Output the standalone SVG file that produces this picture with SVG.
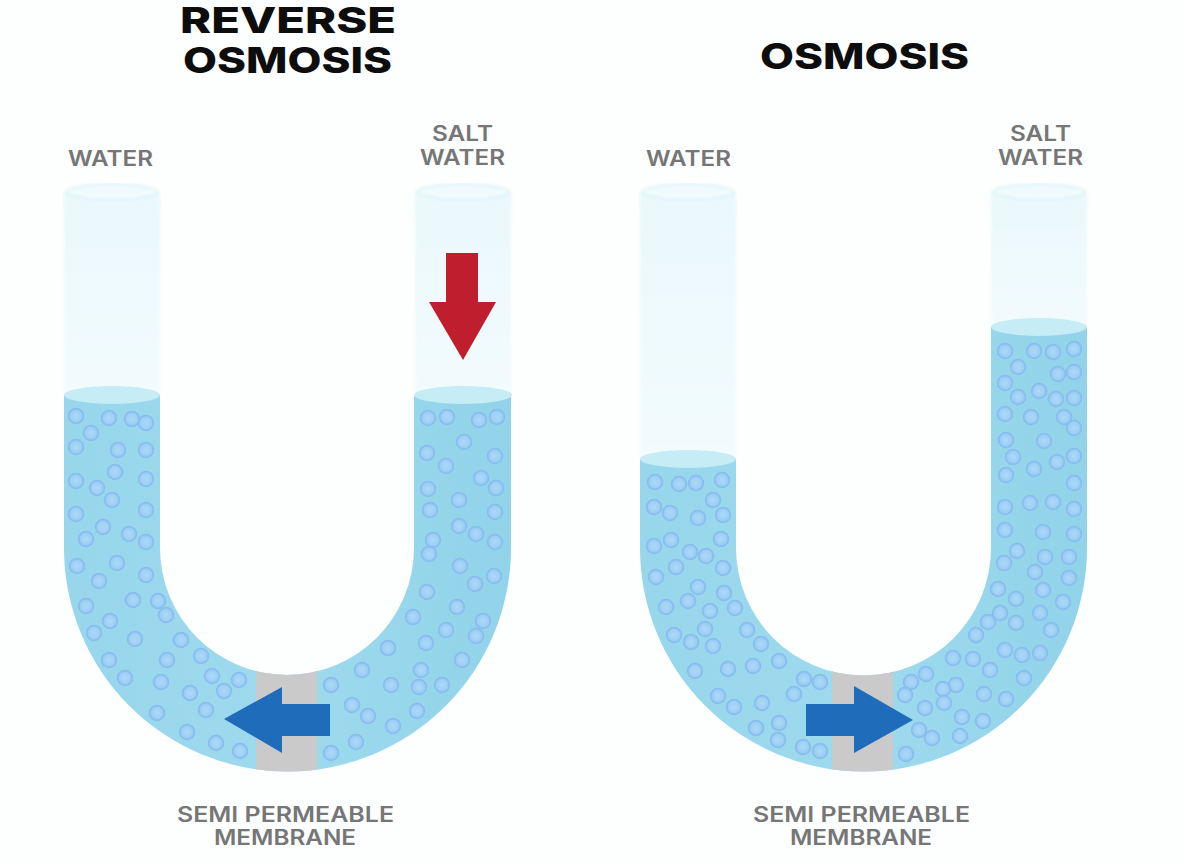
<svg xmlns="http://www.w3.org/2000/svg" width="1184" height="864" viewBox="0 0 1184 864">
  <style>
    .title { font-family: "Inter", "Liberation Sans", sans-serif; font-weight: 800; font-size: 36px; fill: #0d0d0d; text-anchor: start; }
    .label { font-family: "Inter", "Liberation Sans", sans-serif; font-weight: 600; font-size: 21px; fill: #767676; text-anchor: start; }
    .glass { fill: url(#glassFill); filter: url(#soft); }
    .rim { fill: #f0fbfd; stroke: #dcf3f9; stroke-width: 2; filter: url(#soft); }
    .water { fill: url(#waterFill); filter: url(#edge); }
    .surface { fill: #c6ecf6; filter: url(#edge); }
    .membrane { fill: #cbcaca; }
    .b { fill: url(#bubbleFill); stroke: #88bdee; stroke-width: 1.5; }
    .flow { fill: #1f6dba; }
    .push { fill: #bf1e2e; }
  </style>
  <defs>
    <filter id="soft" x="-10%" y="-10%" width="120%" height="120%"><feGaussianBlur stdDeviation="1.500"/></filter>
    <filter id="edge" x="-5%" y="-5%" width="110%" height="110%"><feGaussianBlur stdDeviation="0.600"/></filter>
    <linearGradient id="glassFill" x1="0" y1="0" x2="0" y2="1">
      <stop offset="0" stop-color="#eaf8fc"/>
      <stop offset="1" stop-color="#f2fbfe"/>
    </linearGradient>
    <linearGradient id="waterFill" x1="0" y1="0" x2="1" y2="0">
      <stop offset="0" stop-color="#97d6eb"/>
      <stop offset="0.5" stop-color="#9edaee"/>
      <stop offset="1" stop-color="#91d3e9"/>
    </linearGradient>
    <radialGradient id="bubbleFill">
      <stop offset="0" stop-color="#acdaf7"/>
      <stop offset="0.7" stop-color="#9ed0f5"/>
      <stop offset="1" stop-color="#8cc1ef"/>
    </radialGradient>
    <clipPath id="clipLeft"><path d="M64,395V548A223.500,223.500 0 0 0 511,548V395H414V548A127,127 0 0 1 160,548V395Z"/></clipPath>
    <clipPath id="clipRight"><path d="M640,459V548A223.500,223.500 0 0 0 1087,548V327H991V548A127,127 0 0 1 736,548V459Z"/></clipPath>
  </defs>

  <rect width="1184" height="864" fill="#fdfefe"/>

  <g id="reverse-osmosis">
    <text class="title" x="180" y="33" textLength="216" lengthAdjust="spacingAndGlyphs">REVERSE</text>
    <text class="title" x="183" y="73" textLength="209" lengthAdjust="spacingAndGlyphs">OSMOSIS</text>
    <text class="label" x="68" y="166" textLength="85" lengthAdjust="spacingAndGlyphs">WATER</text>
    <text class="label" x="432" y="141" textLength="61" lengthAdjust="spacingAndGlyphs">SALT</text>
    <text class="label" x="420" y="165" textLength="85" lengthAdjust="spacingAndGlyphs">WATER</text>
    <text class="label" x="177" y="822" textLength="217" lengthAdjust="spacingAndGlyphs">SEMI PERMEABLE</text>
    <text class="label" x="214" y="845" textLength="142" lengthAdjust="spacingAndGlyphs">MEMBRANE</text>

    <rect class="glass" x="64" y="192" width="96" height="204"/>
    <rect class="glass" x="415" y="192" width="96" height="204"/>
    <ellipse class="rim" cx="112" cy="192" rx="46" ry="7.500"/>
    <ellipse class="rim" cx="463" cy="192" rx="46" ry="7.500"/>

    <path class="water" d="M64,395V548A223.500,223.500 0 0 0 511,548V395H414V548A127,127 0 0 1 160,548V395Z"/>
    <ellipse class="surface" cx="112" cy="395" rx="48" ry="9"/>
    <ellipse class="surface" cx="463" cy="395" rx="49" ry="9"/>
    <rect class="membrane" x="256" y="660" width="61" height="120" clip-path="url(#clipLeft)"/>

    <g id="particles-left">
      <circle class="b" cx="76" cy="416" r="7.500"/><circle class="b" cx="109" cy="418" r="7.500"/><circle class="b" cx="132" cy="419" r="7.500"/><circle class="b" cx="146" cy="423" r="7.500"/><circle class="b" cx="91" cy="433" r="7.500"/><circle class="b" cx="76" cy="447" r="7.500"/><circle class="b" cx="118" cy="450" r="7.500"/><circle class="b" cx="146" cy="450" r="7.500"/><circle class="b" cx="115" cy="472" r="7.500"/><circle class="b" cx="76" cy="481" r="7.500"/><circle class="b" cx="146" cy="479" r="7.500"/><circle class="b" cx="97" cy="488" r="7.500"/><circle class="b" cx="112" cy="500" r="7.500"/><circle class="b" cx="146" cy="510" r="7.500"/><circle class="b" cx="76" cy="514" r="7.500"/><circle class="b" cx="103" cy="527" r="7.500"/><circle class="b" cx="86" cy="539" r="7.500"/><circle class="b" cx="129" cy="534" r="7.500"/><circle class="b" cx="146" cy="542" r="7.500"/><circle class="b" cx="77" cy="566" r="7.500"/><circle class="b" cx="117" cy="563" r="7.500"/><circle class="b" cx="99" cy="581" r="7.500"/><circle class="b" cx="146" cy="575" r="7.500"/><circle class="b" cx="133" cy="600" r="7.500"/><circle class="b" cx="158" cy="601" r="7.500"/><circle class="b" cx="166" cy="615" r="7.500"/><circle class="b" cx="86" cy="606" r="7.500"/><circle class="b" cx="110" cy="621" r="7.500"/><circle class="b" cx="94" cy="633" r="7.500"/><circle class="b" cx="135" cy="639" r="7.500"/><circle class="b" cx="181" cy="640" r="7.500"/><circle class="b" cx="201" cy="656" r="7.500"/><circle class="b" cx="109" cy="660" r="7.500"/><circle class="b" cx="167" cy="660" r="7.500"/><circle class="b" cx="125" cy="678" r="7.500"/><circle class="b" cx="161" cy="682" r="7.500"/><circle class="b" cx="212" cy="676" r="7.500"/><circle class="b" cx="239" cy="680" r="7.500"/><circle class="b" cx="224" cy="691" r="7.500"/><circle class="b" cx="190" cy="693" r="7.500"/><circle class="b" cx="206" cy="710" r="7.500"/><circle class="b" cx="157" cy="713" r="7.500"/><circle class="b" cx="187" cy="732" r="7.500"/><circle class="b" cx="216" cy="743" r="7.500"/><circle class="b" cx="240" cy="751" r="7.500"/>
      <circle class="b" cx="428" cy="418" r="7.500"/><circle class="b" cx="447" cy="417" r="7.500"/><circle class="b" cx="479" cy="420" r="7.500"/><circle class="b" cx="497" cy="417" r="7.500"/><circle class="b" cx="464" cy="442" r="7.500"/><circle class="b" cx="427" cy="453" r="7.500"/><circle class="b" cx="446" cy="466" r="7.500"/><circle class="b" cx="495" cy="456" r="7.500"/><circle class="b" cx="481" cy="478" r="7.500"/><circle class="b" cx="496" cy="488" r="7.500"/><circle class="b" cx="428" cy="489" r="7.500"/><circle class="b" cx="459" cy="500" r="7.500"/><circle class="b" cx="430" cy="510" r="7.500"/><circle class="b" cx="495" cy="512" r="7.500"/><circle class="b" cx="459" cy="526" r="7.500"/><circle class="b" cx="476" cy="534" r="7.500"/><circle class="b" cx="433" cy="540" r="7.500"/><circle class="b" cx="495" cy="542" r="7.500"/><circle class="b" cx="429" cy="554" r="7.500"/><circle class="b" cx="460" cy="566" r="7.500"/><circle class="b" cx="494" cy="576" r="7.500"/><circle class="b" cx="475" cy="584" r="7.500"/><circle class="b" cx="427" cy="592" r="7.500"/><circle class="b" cx="457" cy="607" r="7.500"/><circle class="b" cx="413" cy="617" r="7.500"/><circle class="b" cx="483" cy="621" r="7.500"/><circle class="b" cx="446" cy="630" r="7.500"/><circle class="b" cx="476" cy="636" r="7.500"/><circle class="b" cx="426" cy="643" r="7.500"/><circle class="b" cx="388" cy="648" r="7.500"/><circle class="b" cx="362" cy="670" r="7.500"/><circle class="b" cx="462" cy="660" r="7.500"/><circle class="b" cx="421" cy="670" r="7.500"/><circle class="b" cx="419" cy="687" r="7.500"/><circle class="b" cx="442" cy="685" r="7.500"/><circle class="b" cx="391" cy="685" r="7.500"/><circle class="b" cx="331" cy="685" r="7.500"/><circle class="b" cx="352" cy="705" r="7.500"/><circle class="b" cx="368" cy="716" r="7.500"/><circle class="b" cx="417" cy="711" r="7.500"/><circle class="b" cx="393" cy="726" r="7.500"/><circle class="b" cx="356" cy="742" r="7.500"/><circle class="b" cx="331" cy="753" r="7.500"/>
    </g>

    <polygon id="pressure-arrow" class="push" points="446,253 478,253 478,302 496,302 463,360 429,302 446,302"/>
    <polygon id="flow-left" class="flow" points="330,704 330,736 282,736 282,753 224,719 282,687 282,704"/>
  </g>

  <g id="osmosis">
    <text class="title" x="760" y="69" textLength="209" lengthAdjust="spacingAndGlyphs">OSMOSIS</text>
    <text class="label" x="646" y="166" textLength="85" lengthAdjust="spacingAndGlyphs">WATER</text>
    <text class="label" x="1010" y="141" textLength="61" lengthAdjust="spacingAndGlyphs">SALT</text>
    <text class="label" x="998" y="165" textLength="85" lengthAdjust="spacingAndGlyphs">WATER</text>
    <text class="label" x="753" y="822" textLength="217" lengthAdjust="spacingAndGlyphs">SEMI PERMEABLE</text>
    <text class="label" x="790" y="845" textLength="142" lengthAdjust="spacingAndGlyphs">MEMBRANE</text>

    <rect class="glass" x="640" y="192" width="96" height="268"/>
    <rect class="glass" x="991" y="192" width="96" height="136"/>
    <ellipse class="rim" cx="688" cy="192" rx="46" ry="7.500"/>
    <ellipse class="rim" cx="1039" cy="192" rx="46" ry="7.500"/>

    <path class="water" d="M640,459V548A223.500,223.500 0 0 0 1087,548V327H991V548A127,127 0 0 1 736,548V459Z"/>
    <ellipse class="surface" cx="688" cy="459" rx="48" ry="9"/>
    <ellipse class="surface" cx="1039" cy="327" rx="48" ry="9"/>
    <rect class="membrane" x="832" y="660" width="61" height="120" clip-path="url(#clipRight)"/>

    <g id="particles-right">
      <circle class="b" cx="655" cy="482" r="7.500"/><circle class="b" cx="679" cy="484" r="7.500"/><circle class="b" cx="696" cy="483" r="7.500"/><circle class="b" cx="722" cy="480" r="7.500"/><circle class="b" cx="713" cy="500" r="7.500"/><circle class="b" cx="654" cy="507" r="7.500"/><circle class="b" cx="670" cy="513" r="7.500"/><circle class="b" cx="698" cy="518" r="7.500"/><circle class="b" cx="723" cy="515" r="7.500"/><circle class="b" cx="721" cy="539" r="7.500"/><circle class="b" cx="671" cy="540" r="7.500"/><circle class="b" cx="654" cy="546" r="7.500"/><circle class="b" cx="690" cy="552" r="7.500"/><circle class="b" cx="706" cy="556" r="7.500"/><circle class="b" cx="676" cy="567" r="7.500"/><circle class="b" cx="723" cy="568" r="7.500"/><circle class="b" cx="656" cy="577" r="7.500"/><circle class="b" cx="698" cy="587" r="7.500"/><circle class="b" cx="724" cy="593" r="7.500"/><circle class="b" cx="688" cy="601" r="7.500"/><circle class="b" cx="666" cy="607" r="7.500"/><circle class="b" cx="735" cy="608" r="7.500"/><circle class="b" cx="710" cy="611" r="7.500"/><circle class="b" cx="705" cy="629" r="7.500"/><circle class="b" cx="747" cy="630" r="7.500"/><circle class="b" cx="674" cy="635" r="7.500"/><circle class="b" cx="691" cy="642" r="7.500"/><circle class="b" cx="713" cy="646" r="7.500"/><circle class="b" cx="761" cy="644" r="7.500"/><circle class="b" cx="779" cy="661" r="7.500"/><circle class="b" cx="695" cy="671" r="7.500"/><circle class="b" cx="728" cy="669" r="7.500"/><circle class="b" cx="753" cy="666" r="7.500"/><circle class="b" cx="804" cy="679" r="7.500"/><circle class="b" cx="820" cy="682" r="7.500"/><circle class="b" cx="794" cy="694" r="7.500"/><circle class="b" cx="718" cy="696" r="7.500"/><circle class="b" cx="734" cy="707" r="7.500"/><circle class="b" cx="762" cy="703" r="7.500"/><circle class="b" cx="779" cy="723" r="7.500"/><circle class="b" cx="756" cy="728" r="7.500"/><circle class="b" cx="778" cy="740" r="7.500"/><circle class="b" cx="803" cy="747" r="7.500"/><circle class="b" cx="820" cy="751" r="7.500"/>
      <circle class="b" cx="1005" cy="351" r="7.500"/><circle class="b" cx="1034" cy="351" r="7.500"/><circle class="b" cx="1053" cy="352" r="7.500"/><circle class="b" cx="1074" cy="349" r="7.500"/><circle class="b" cx="1018" cy="367" r="7.500"/><circle class="b" cx="1058" cy="374" r="7.500"/><circle class="b" cx="1074" cy="372" r="7.500"/><circle class="b" cx="1005" cy="383" r="7.500"/><circle class="b" cx="1018" cy="397" r="7.500"/><circle class="b" cx="1039" cy="391" r="7.500"/><circle class="b" cx="1056" cy="399" r="7.500"/><circle class="b" cx="1074" cy="398" r="7.500"/><circle class="b" cx="1005" cy="414" r="7.500"/><circle class="b" cx="1031" cy="417" r="7.500"/><circle class="b" cx="1064" cy="417" r="7.500"/><circle class="b" cx="1074" cy="428" r="7.500"/><circle class="b" cx="1006" cy="440" r="7.500"/><circle class="b" cx="1044" cy="441" r="7.500"/><circle class="b" cx="1013" cy="457" r="7.500"/><circle class="b" cx="1074" cy="456" r="7.500"/><circle class="b" cx="1057" cy="462" r="7.500"/><circle class="b" cx="1034" cy="469" r="7.500"/><circle class="b" cx="1006" cy="475" r="7.500"/><circle class="b" cx="1074" cy="483" r="7.500"/><circle class="b" cx="1005" cy="507" r="7.500"/><circle class="b" cx="1030" cy="503" r="7.500"/><circle class="b" cx="1053" cy="502" r="7.500"/><circle class="b" cx="1074" cy="509" r="7.500"/><circle class="b" cx="1005" cy="530" r="7.500"/><circle class="b" cx="1043" cy="532" r="7.500"/><circle class="b" cx="1074" cy="534" r="7.500"/><circle class="b" cx="1017" cy="551" r="7.500"/><circle class="b" cx="1045" cy="557" r="7.500"/><circle class="b" cx="1069" cy="557" r="7.500"/><circle class="b" cx="1004" cy="563" r="7.500"/><circle class="b" cx="1035" cy="572" r="7.500"/><circle class="b" cx="1069" cy="578" r="7.500"/><circle class="b" cx="998" cy="589" r="7.500"/><circle class="b" cx="1043" cy="590" r="7.500"/><circle class="b" cx="1016" cy="599" r="7.500"/><circle class="b" cx="1063" cy="602" r="7.500"/><circle class="b" cx="1000" cy="613" r="7.500"/><circle class="b" cx="1040" cy="613" r="7.500"/><circle class="b" cx="988" cy="622" r="7.500"/><circle class="b" cx="1016" cy="623" r="7.500"/><circle class="b" cx="1051" cy="630" r="7.500"/><circle class="b" cx="976" cy="635" r="7.500"/><circle class="b" cx="1005" cy="650" r="7.500"/><circle class="b" cx="1022" cy="655" r="7.500"/><circle class="b" cx="1040" cy="653" r="7.500"/><circle class="b" cx="953" cy="658" r="7.500"/><circle class="b" cx="973" cy="659" r="7.500"/><circle class="b" cx="990" cy="670" r="7.500"/><circle class="b" cx="1024" cy="678" r="7.500"/><circle class="b" cx="926" cy="674" r="7.500"/><circle class="b" cx="911" cy="682" r="7.500"/><circle class="b" cx="956" cy="685" r="7.500"/><circle class="b" cx="943" cy="689" r="7.500"/><circle class="b" cx="905" cy="695" r="7.500"/><circle class="b" cx="984" cy="694" r="7.500"/><circle class="b" cx="1006" cy="699" r="7.500"/><circle class="b" cx="944" cy="703" r="7.500"/><circle class="b" cx="925" cy="708" r="7.500"/><circle class="b" cx="962" cy="717" r="7.500"/><circle class="b" cx="983" cy="721" r="7.500"/><circle class="b" cx="919" cy="730" r="7.500"/><circle class="b" cx="932" cy="738" r="7.500"/><circle class="b" cx="960" cy="736" r="7.500"/><circle class="b" cx="906" cy="754" r="7.500"/>
    </g>

    <polygon id="flow-right" class="flow" points="806,704 806,736 854,736 854,753 913,720 854,686 854,704"/>
  </g>
</svg>
